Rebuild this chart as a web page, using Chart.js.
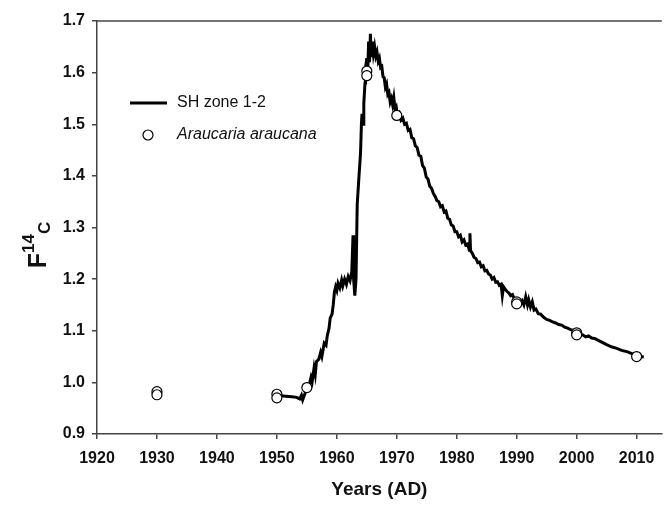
<!DOCTYPE html>
<html>
<head>
<meta charset="utf-8">
<script src="https://cdn.jsdelivr.net/npm/chart.js@4"></script>
<style>body{margin:0;background:#fff}</style>
</head>
<body>
<canvas id="chart" width="668" height="508"></canvas>
<script>
// SH zone 1-2 curve
const lineYears = [
    1950.7, 1951.5, 1952.5, 1953.3, 1953.8, 1954.1, 1954.3, 1954.7, 1955.0, 1955.4,
    1955.7, 1955.9, 1956.2, 1956.4, 1956.6, 1957.0, 1957.3, 1957.5, 1957.9, 1958.2,
    1958.4, 1958.7, 1958.9, 1959.2, 1959.4, 1959.6, 1959.8, 1960.0, 1960.2, 1960.5,
    1960.8, 1961.0, 1961.3, 1961.6, 1961.9, 1962.2, 1962.5, 1962.7, 1962.8, 1963.0,
    1963.2, 1963.4, 1963.7, 1963.95, 1964.1, 1964.2, 1964.4, 1964.5, 1964.7, 1964.8,
    1965.0, 1965.15, 1965.3, 1965.45, 1965.6, 1965.75, 1965.9,
    1966.1, 1966.3, 1966.5, 1966.7, 1966.9, 1967.1, 1967.3, 1967.5, 1967.7, 1967.9,
    1968.1, 1968.3, 1968.5, 1968.7, 1968.9, 1969.1, 1969.3, 1969.5, 1969.7, 1969.9,
    1970.1, 1970.4, 1970.7, 1971.0, 1971.3, 1971.6, 1971.9, 1972.2, 1972.5, 1972.8,
    1973.1, 1973.4, 1973.7, 1974.0, 1974.3, 1974.6, 1974.9, 1975.2, 1975.5, 1975.8,
    1976.1, 1976.4, 1976.7, 1977.0, 1977.3, 1977.6, 1977.9, 1978.2, 1978.5, 1978.8,
    1979.1, 1979.4, 1979.7, 1980.0, 1980.3, 1980.6, 1980.9, 1981.2, 1981.5, 1981.8,
    1982.1, 1982.2, 1982.3, 1982.6, 1982.9, 1983.2, 1983.5, 1983.8, 1984.1, 1984.4,
    1984.7, 1985.0, 1985.3, 1985.6, 1985.9, 1986.2, 1986.5, 1986.8, 1987.1, 1987.4,
    1987.6, 1987.8, 1988.1, 1988.4, 1988.7, 1989.0, 1989.3, 1989.6, 1990.0, 1990.3,
    1990.6, 1990.9, 1991.2, 1991.5, 1991.8, 1992.0, 1992.3, 1992.6, 1992.9, 1993.2,
    1993.6, 1994.0, 1994.5, 1995.0, 1995.5, 1996.0, 1996.5, 1997.0, 1997.5, 1998.0,
    1998.5, 1999.0, 1999.5, 2000.0, 2000.5, 2001.0, 2001.5, 2002.0, 2002.5, 2003.0,
    2004.0, 2005.0, 2005.8, 2006.7, 2007.5, 2008.5, 2009.3, 2010.1, 2011.2
];
const lineValues = [
    0.974, 0.973, 0.972, 0.971, 0.968, 0.975, 0.966, 0.979, 0.990, 0.995,
    1.010, 1.002, 1.028, 1.015, 1.040, 1.045, 1.058, 1.050, 1.076, 1.072,
    1.090, 1.105, 1.125, 1.132, 1.150, 1.175, 1.185, 1.178, 1.192, 1.183,
    1.198, 1.187, 1.200, 1.190, 1.205, 1.197, 1.215, 1.285, 1.200, 1.168,
    1.200, 1.345, 1.400, 1.443, 1.500, 1.520, 1.500, 1.540, 1.580, 1.610,
    1.628, 1.600, 1.660, 1.620, 1.675, 1.630, 1.660,
    1.636, 1.650, 1.632, 1.640, 1.622, 1.628, 1.610, 1.612, 1.592, 1.590,
    1.572, 1.578, 1.558, 1.562, 1.543, 1.550, 1.538, 1.552, 1.530, 1.534,
    1.518, 1.522, 1.508, 1.512, 1.500, 1.502, 1.488, 1.490, 1.474, 1.472,
    1.458, 1.455, 1.440, 1.438, 1.420, 1.415, 1.398, 1.394, 1.380, 1.376,
    1.366, 1.360, 1.352, 1.350, 1.340, 1.342, 1.330, 1.332, 1.318, 1.316,
    1.305, 1.303, 1.292, 1.292, 1.282, 1.285, 1.272, 1.276, 1.266, 1.268,
    1.256, 1.289, 1.255, 1.250, 1.242, 1.240, 1.232, 1.233, 1.224, 1.226,
    1.216, 1.217, 1.210, 1.208, 1.200, 1.203, 1.194, 1.195, 1.188, 1.190,
    1.168, 1.185, 1.180, 1.176, 1.173, 1.168, 1.170, 1.162, 1.158, 1.160,
    1.152, 1.158, 1.150, 1.166, 1.150, 1.160, 1.146, 1.156, 1.140, 1.142,
    1.133, 1.132, 1.126, 1.122, 1.120, 1.117, 1.115, 1.112, 1.111, 1.107,
    1.105, 1.102, 1.100, 1.097, 1.094, 1.092, 1.088, 1.090, 1.086, 1.085,
    1.079, 1.073, 1.069, 1.066, 1.062, 1.059, 1.055, 1.051, 1.049
];

// Araucaria araucana samples
const sampleYears = [1930, 1930, 1950, 1950, 1955, 1965, 1965, 1970, 1990, 1990, 2000, 2000, 2010];
const sampleValues = [0.982, 0.976, 0.977, 0.970, 0.990, 1.603, 1.594, 1.517, 1.156, 1.152, 1.096, 1.092, 1.050];

const lineLabel = 'SH zone 1-2';
const sampleLabel = 'Araucaria araucana';
const xTitle = 'Years (AD)';

const FONT = '"Liberation Sans", Arial, sans-serif';

// titles, legend and the top frame line
const extras = {
    id: 'extras',
    afterDraw(c) {
        const ctx = c.ctx;
        const a = c.chartArea;
        ctx.save();
        ctx.strokeStyle = '#444';
        ctx.lineWidth = 1.5;
        ctx.beginPath();
        ctx.moveTo(a.left, a.top);
        ctx.lineTo(a.right, a.top);
        ctx.stroke();

        ctx.fillStyle = '#111';
        ctx.font = 'bold 19px ' + FONT;
        ctx.textAlign = 'center';
        ctx.textBaseline = 'middle';
        ctx.fillText(xTitle, (a.left + a.right) / 2, 490);

        // F^14_C rotated
        ctx.translate(46, 245);
        ctx.rotate(-Math.PI / 2);
        ctx.textAlign = 'left';
        ctx.textBaseline = 'alphabetic';
        ctx.font = 'bold 25px ' + FONT;
        const wF = ctx.measureText('F').width;
        ctx.font = 'bold 17px ' + FONT;
        const w14 = ctx.measureText('14').width;
        const wC = ctx.measureText('C').width;
        let x0 = -(wF + w14 + wC) / 2;
        ctx.font = 'bold 25px ' + FONT;
        ctx.fillText('F', x0, 0);
        ctx.font = 'bold 17px ' + FONT;
        ctx.fillText('14', x0 + wF, -12);
        ctx.fillText('C', x0 + wF + w14, 4);
        ctx.restore();

        // legend
        ctx.save();
        ctx.strokeStyle = '#000';
        ctx.lineWidth = 3;
        ctx.beginPath();
        ctx.moveTo(130, 103);
        ctx.lineTo(167, 103);
        ctx.stroke();
        ctx.fillStyle = '#111';
        ctx.textBaseline = 'middle';
        ctx.font = '16px ' + FONT;
        ctx.fillText(lineLabel, 177, 103);
        ctx.beginPath();
        ctx.arc(148, 135, 5, 0, Math.PI * 2);
        ctx.fillStyle = '#fff';
        ctx.fill();
        ctx.lineWidth = 1.2;
        ctx.stroke();
        ctx.fillStyle = '#111';
        ctx.font = 'italic 16px ' + FONT;
        ctx.fillText(sampleLabel, 177, 135);
        ctx.restore();
    }
};

new Chart(document.getElementById('chart'), {
    type: 'scatter',
    data: {
        datasets: [
            {
                label: sampleLabel,
                data: sampleYears.map((x, i) => ({ x: x, y: sampleValues[i] })),
                pointRadius: 5,
                pointBackgroundColor: '#fff',
                pointBorderColor: '#000',
                pointBorderWidth: 1.2,
                order: 0
            },
            {
                label: lineLabel,
                data: lineYears.map((x, i) => ({ x: x, y: lineValues[i] })),
                showLine: true,
                borderColor: '#000',
                borderWidth: 3,
                pointRadius: 0,
                tension: 0,
                order: 1
            }
        ]
    },
    options: {
        responsive: false,
        animation: false,
        layout: { padding: { top: 21, right: 0, left: 0, bottom: 0 } },
        plugins: { legend: { display: false }, tooltip: { enabled: false } },
        scales: {
            x: {
                type: 'linear',
                min: 1920,
                max: 2014.2,
                ticks: {
                    stepSize: 10,
                    includeBounds: false,
                    padding: 10,
                    color: '#111',
                    font: { family: FONT, size: 16, weight: 'bold' },
                    callback: v => String(v)
                },
                grid: { drawOnChartArea: false, tickLength: 5, color: '#444', lineWidth: 1.5 },
                border: { color: '#444', width: 1.5 },
                afterFit: s => { s.height = 74; }
            },
            y: {
                min: 0.9,
                max: 1.7,
                ticks: {
                    stepSize: 0.1,
                    padding: 7,
                    color: '#111',
                    font: { family: FONT, size: 16, weight: 'bold' },
                    callback: v => v.toFixed(1)
                },
                grid: { drawOnChartArea: false, tickLength: 5, color: '#444', lineWidth: 1.5 },
                border: { color: '#444', width: 1.5 },
                afterFit: s => { s.width = 97; }
            }
        }
    },
    plugins: [extras]
});
</script>
</body>
</html>
